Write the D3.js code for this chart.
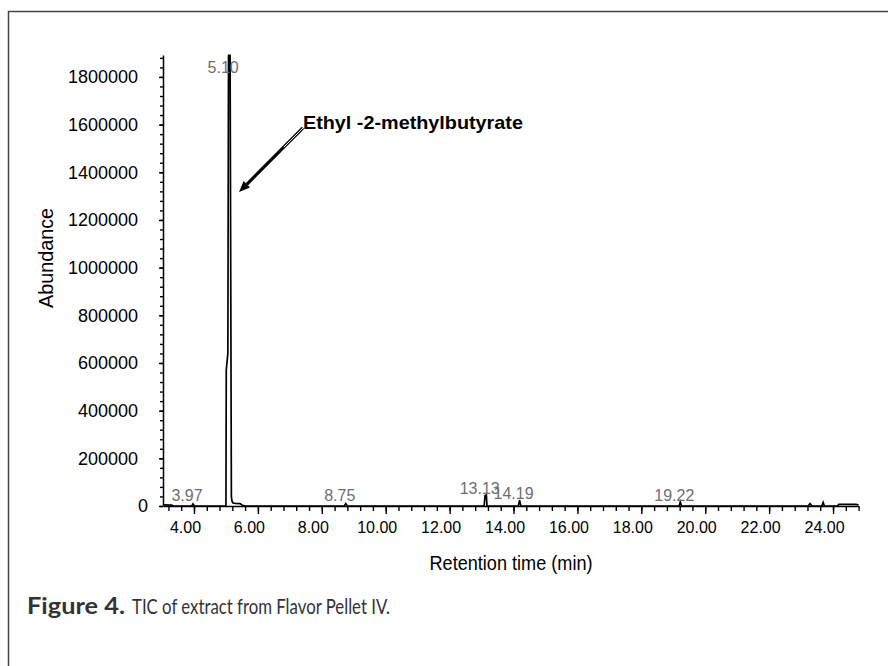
<!DOCTYPE html>
<html>
<head>
<meta charset="utf-8">
<script src="https://cdn.jsdelivr.net/npm/d3@7"></script>
<style>
  html, body { margin: 0; padding: 0; background: #fff; }
  svg { display: block; }
</style>
</head>
<body>
<svg id="chart" width="888" height="666"></svg>
<script>
// ---- data ----
const times = [3.03, 3.30, 3.36, 3.93, 3.97, 4.01, 4.98, 5.00, 5.01, 5.06, 5.08, 5.13, 5.17, 5.19, 5.22, 5.30, 5.44, 5.50, 5.60,
  8.70, 8.75, 8.80, 13.08, 13.11, 13.15, 13.17, 14.15, 14.19, 14.23, 19.18, 19.22, 19.26,
  23.22, 23.28, 23.34, 23.65, 23.69, 23.73, 24.14, 24.18, 24.72, 24.80];
const abundance = [5000, 4000, 0, 0, 9000, 0, 0, 3000, 570000, 640000, 1891000, 1891000, 39000, 20000, 12600, 11000, 10000, 4000, 0,
  0, 10000, 0, 0, 44000, 46000, 0, 0, 24000, 0, 0, 17000, 0,
  0, 10000, 0, 0, 15000, 0, 0, 7000, 7000, 4000];

const peakLabels = ["3.97", "5.10", "8.75", "13.13", "14.19", "19.22"];
const peakTimes = [3.97, 5.10, 8.75, 13.13, 14.19, 19.22];

const yTickValues = [0, 200000, 400000, 600000, 800000, 1000000, 1200000, 1400000, 1600000, 1800000];
const xTickValues = [4, 6, 8, 10, 12, 14, 16, 18, 20, 22, 24];

const compoundName = "Ethyl -2-methylbutyrate";
const arrowFrom = [7.41, 1586000];
const arrowTo = [5.41, 1317000];

const xTitle = "Retention time (min)";
const yTitle = "Abundance";
const captionBold = "Figure 4.";
const captionText = "TIC of extract from Flavor Pellet IV.";

// ---- drawing ----
const FONT = "'Liberation Sans', Arial, sans-serif";
const svg = d3.select("#chart");

// frame
svg.append("line").attr("x1", 8).attr("x2", 888).attr("y1", 11.5).attr("y2", 11.5)
  .attr("stroke", "#444").attr("stroke-width", 1.5);
svg.append("line").attr("x1", 8.5).attr("x2", 8.5).attr("y1", 11).attr("y2", 666)
  .attr("stroke", "#444").attr("stroke-width", 1.5);

const x = d3.scaleLinear().domain([3.03, 24.8]).range([163, 858.6]);
const y = d3.scaleLinear().domain([0, 1892000]).range([506, 55]);

// minor ticks
const xMinor = d3.range(3.2, 24.81, 0.4).map(v => +v.toFixed(2));
const yMinor = d3.range(0, 1892000, 40000);

const gx = svg.append("g").attr("transform", `translate(0,${y(0)})`);
gx.call(d3.axisBottom(x).tickValues(xMinor).tickSize(5).tickSizeOuter(0).tickFormat(""));
const gxMaj = svg.append("g").attr("transform", `translate(0,${y(0)})`);
gxMaj.call(d3.axisBottom(x).tickValues(xTickValues).tickSize(8).tickSizeOuter(0)
  .tickFormat(d3.format(".2f")).tickPadding(8));
gxMaj.select(".domain").remove();
gxMaj.selectAll("text").attr("dx", -9).style("font-size", "16px").attr("fill", "#000")
  .style("font-family", FONT);
[gx, gxMaj].forEach(g => {
  g.selectAll("line").attr("stroke", "#000").attr("stroke-width", 1.4);
  g.selectAll(".domain").attr("stroke", "#000").attr("stroke-width", 1.5);
});

const gy = svg.append("g").attr("transform", `translate(${x(3.03)},0)`);
gy.call(d3.axisLeft(y).tickValues(yMinor).tickSize(3).tickSizeOuter(0).tickFormat(""));
const gyMaj = svg.append("g").attr("transform", `translate(${x(3.03)},0)`);
gyMaj.call(d3.axisLeft(y).tickValues(yTickValues).tickSize(4).tickSizeOuter(0)
  .tickFormat(d3.format("d")).tickPadding(21));
gyMaj.select(".domain").remove();
gyMaj.selectAll("text").style("font-size", "18px").attr("fill", "#000")
  .style("font-family", FONT)
  .attr("dx", d => d === 0 ? 10 : 0);
[gy, gyMaj].forEach(g => {
  g.selectAll("line").attr("stroke", "#000").attr("stroke-width", 1.4);
  g.selectAll(".domain").attr("stroke", "#000").attr("stroke-width", 1.5);
});

// chromatogram
const pts = times.map((t, i) => [t, abundance[i]]);
svg.append("path").datum(pts)
  .attr("fill", "none").attr("stroke", "#000").attr("stroke-width", 1.7)
  .attr("stroke-linejoin", "miter")
  .attr("d", d3.line().x(d => x(d[0])).y(d => y(d[1])));

// peak labels
peakLabels.forEach((lab, i) => {
  const t = peakTimes[i];
  const apex = d3.max(pts.filter(p => Math.abs(p[0] - t) <= 0.1), p => p[1]) || 0;
  const by = Math.max(73, Math.min(501, y(apex) - 1));
  svg.append("text").attr("x", x(t) - 6).attr("y", by)
    .attr("text-anchor", "middle").style("font-size", "16px").style("font-family", FONT)
    .attr("fill", "#6e6e6e")
    .text(lab);
});

// annotation arrow
const ax1 = x(arrowFrom[0]), ay1 = y(arrowFrom[1]);
const ax2 = x(arrowTo[0]), ay2 = y(arrowTo[1]);
const ang = Math.atan2(ay2 - ay1, ax2 - ax1);
const headLen = 11, headW = 4.5;
const bx = ax2 - headLen * Math.cos(ang), by2 = ay2 - headLen * Math.sin(ang);
svg.append("line").attr("x1", ax1).attr("y1", ay1).attr("x2", bx).attr("y2", by2)
  .attr("stroke", "#000").attr("stroke-width", 3.2);
const mx = ax1 + (ax2 - ax1) * 0.3, my = ay1 + (ay2 - ay1) * 0.3;
svg.append("line").attr("x1", ax1).attr("y1", ay1).attr("x2", mx).attr("y2", my)
  .attr("stroke", "#fff").attr("stroke-width", 1);
svg.append("polygon")
  .attr("points", [
    [ax2, ay2],
    [bx + headW * Math.sin(ang), by2 - headW * Math.cos(ang)],
    [bx - headW * Math.sin(ang), by2 + headW * Math.cos(ang)]
  ].map(p => p.join(",")).join(" "))
  .attr("fill", "#000");
svg.append("text").attr("x", ax1).attr("y", ay1 + 1)
  .style("font-size", "19px").style("font-family", FONT).attr("font-weight", "bold").attr("fill", "#000")
  .attr("textLength", 220).attr("lengthAdjust", "spacingAndGlyphs")
  .text(compoundName);

// axis titles
svg.append("text").attr("x", 511).attr("y", 570).attr("text-anchor", "middle")
  .style("font-size", "20px").style("font-family", FONT)
  .attr("textLength", 163).attr("lengthAdjust", "spacingAndGlyphs")
  .attr("fill", "#000").text(xTitle);
svg.append("text").attr("transform", "translate(53,258) rotate(-90)").attr("text-anchor", "middle")
  .style("font-size", "20px").style("font-family", FONT)
  .attr("textLength", 100).attr("lengthAdjust", "spacingAndGlyphs")
  .attr("fill", "#000").text(yTitle);

// caption
const CAPFONT = "Lato, 'Noto Sans', sans-serif";
svg.append("text").attr("x", 27).attr("y", 614)
  .style("font-family", CAPFONT).attr("font-weight", "bold")
  .style("font-size", "22px").attr("fill", "#333")
  .attr("textLength", 98).attr("lengthAdjust", "spacingAndGlyphs").text(captionBold);
svg.append("text").attr("x", 132).attr("y", 614)
  .style("font-family", CAPFONT)
  .style("font-size", "21px").attr("fill", "#333")
  .attr("textLength", 258).attr("lengthAdjust", "spacingAndGlyphs").text(captionText);
</script>
</body>
</html>
